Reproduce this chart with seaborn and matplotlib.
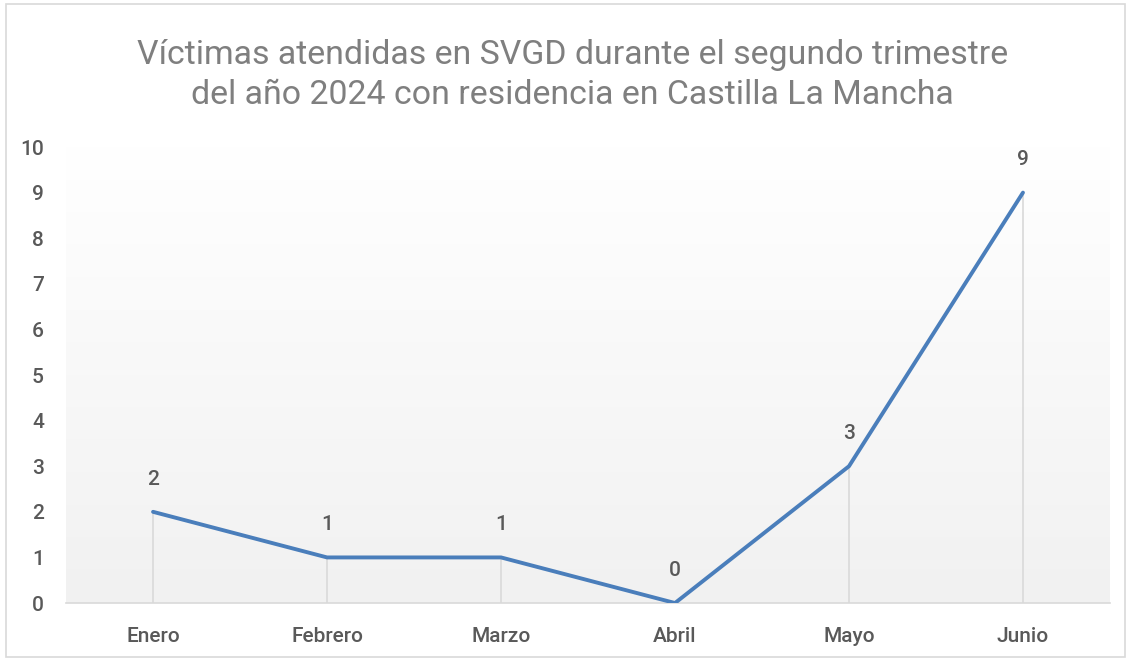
import matplotlib
matplotlib.use("Agg")
import matplotlib.pyplot as plt
import numpy as np
import pandas as pd
import seaborn as sns
from matplotlib.colors import LinearSegmentedColormap
from matplotlib.patches import Rectangle

months = ["Enero", "Febrero", "Marzo", "Abril", "Mayo", "Junio"]
victims = [2, 1, 1, 0, 3, 9]
yticks = list(range(0, 11))
title = ("Víctimas atendidas en SVGD durante el segundo trimestre\n"
         "del año 2024 con residencia en Castilla La Mancha")

sns.set_theme(style="white")
plt.rcParams["font.family"] = ["Roboto", "DejaVu Sans"]

df = pd.DataFrame({"mes": months, "victimas": victims})

fig = plt.figure(figsize=(11.31, 6.61), dpi=100)
ax = fig.add_axes([0.0584, 0.0877, 0.9230, 0.6899])

# background gradient (white top -> light grey bottom)
grad = LinearSegmentedColormap.from_list("bg", ["#f1f1f1", "#ffffff"])
ax.imshow(np.linspace(0, 1, 256).reshape(-1, 1), cmap=grad, aspect="auto",
          extent=(-0.5, 5.5, 0, 10), origin="lower", zorder=0)

x = np.arange(len(months))
ax.vlines(x, 0, victims, color="#d9d9d9", lw=1.2, zorder=1)
sns.lineplot(data=df, x="mes", y="victimas", ax=ax, color="#4a7ebb",
             lw=2.8, sort=False, zorder=3)

for xi, v in zip(x, victims):
    ax.annotate(str(v), (xi, v), xytext=(0, 23.5), textcoords="offset points",
                ha="center", va="center", fontsize=15, color="#595959",
                fontweight="medium")

ax.set_xlim(-0.5, 5.5)
ax.set_ylim(0, 10)
ax.set_yticks(yticks)
ax.set_xticks(x)
ax.set_xticklabels(months)
ax.set_xlabel("")
ax.set_ylabel("")
ax.tick_params(axis="both", length=0, labelsize=15, labelcolor="#595959")
ax.tick_params(axis="x", pad=17)
ax.tick_params(axis="y", pad=16)
for lab in ax.get_xticklabels() + ax.get_yticklabels():
    lab.set_fontweight("medium")
for s in ["top", "left", "right"]:
    ax.spines[s].set_visible(False)
ax.spines["bottom"].set_color("#d9d9d9")
ax.spines["bottom"].set_linewidth(1.2)

fig.text(0.506, 0.886, title, ha="center", va="center", fontsize=24.4,
         color="#7f7f7f", linespacing=1.33)

fig.patches.append(Rectangle((0.005, 0.006), 0.99, 0.988, transform=fig.transFigure,
                             fill=False, edgecolor="#d9d9d9", lw=1.2))

fig.savefig("out.png", dpi=100)
